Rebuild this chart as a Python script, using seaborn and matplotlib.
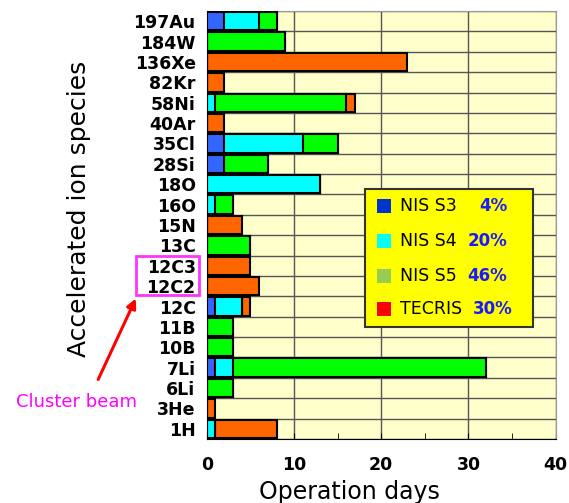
import numpy as np
import pandas as pd
import matplotlib
matplotlib.use("Agg")
import matplotlib.pyplot as plt
import seaborn as sns
from matplotlib.patches import Rectangle, FancyArrowPatch

# ion species, top to bottom
species = ["197Au", "184W", "136Xe", "82Kr", "58Ni", "40Ar", "35Cl", "28Si",
           "18O", "16O", "15N", "13C", "12C3", "12C2", "12C", "11B", "10B",
           "7Li", "6Li", "3He", "1H"]

# operation days per ion source
nis_s3 = [2, 0, 0, 0, 0, 0, 2, 2, 0, 0, 0, 0, 0, 0, 1, 0, 0, 1, 0, 0, 0]
nis_s4 = [4, 0, 0, 0, 1, 0, 9, 0, 13, 1, 0, 0, 0, 0, 3, 0, 0, 2, 0, 0, 1]
nis_s5 = [2, 9, 0, 0, 15, 0, 4, 5, 0, 2, 0, 5, 0, 0, 0, 3, 3, 29, 3, 0, 0]
tecris = [0, 0, 23, 2, 1, 2, 0, 0, 0, 0, 4, 0, 5, 6, 1, 0, 0, 0, 0, 1, 7]

sources = ["NIS S3", "NIS S4", "NIS S5", "TECRIS"]
shares = ["4%", "20%", "46%", "30%"]

bar_colors = ["#3366FF", "#00FFFF", "#00FF00", "#FF6600"]
legend_colors = ["#0033CC", "#00FFFF", "#99CC55", "#FF0000"]

W, H = 569, 503


def fx(px):
    return px / W


def fy(py):
    return 1 - py / H


df = pd.DataFrame({"species": species, "s3": nis_s3, "s4": nis_s4,
                   "s5": nis_s5, "tec": tecris})
df["c1"] = df["s3"]
df["c2"] = df["c1"] + df["s4"]
df["c3"] = df["c2"] + df["s5"]
df["c4"] = df["c3"] + df["tec"]

fig = plt.figure(figsize=(W / 100, H / 100), dpi=100)
ax = fig.add_axes([fx(206.7), fy(439), fx(349), 428 / H])
ax.set_facecolor("#FFFFCC")

# stacked bars: draw cumulative totals from the longest to the shortest
for col, color in zip(["c4", "c3", "c2", "c1"], bar_colors[::-1]):
    sns.barplot(data=df, x=col, y="species", order=species, color=color,
                saturation=1, width=0.9, edgecolor="black", linewidth=1.5,
                errorbar=None, ax=ax, zorder=3)

n = len(species)
ax.set_xlim(0, 40)
ax.set_ylim(n - 0.5, -0.5)
ax.set_xticks([0, 10, 20, 30, 40])
ax.set_xticks([5, 15, 25, 35], minor=True)
ax.set_yticks(np.arange(-0.5, n), minor=True)
ax.set_axisbelow(True)
ax.grid(False)
ax.grid(which="major", axis="x", color="#555555", linewidth=1)
ax.grid(which="minor", axis="y", color="#555555", linewidth=1)

ax.tick_params(axis="y", which="both", length=0, pad=8, labelsize=12.5)
ax.tick_params(axis="x", which="both", direction="in", length=4,
               pad=12, labelsize=12.5)
for lab in ax.get_xticklabels() + ax.get_yticklabels():
    lab.set_fontweight("bold")

for side in ["top", "right"]:
    ax.spines[side].set_color("#999999")
for side in ["left", "bottom"]:
    ax.spines[side].set_color("black")

ax.set_xlabel("Operation days", fontsize=17)
ax.xaxis.set_label_coords(0.41, -0.095)
ax.set_ylabel("Accelerated ion species", fontsize=18)
ax.yaxis.set_label_coords(-0.331, 0.537)

# legend box with shares
fig.patches.append(Rectangle((fx(364.7), fy(326.7)), fx(533.3 - 364.7),
                             (326.7 - 189.3) / H, transform=fig.transFigure,
                             facecolor="#FFFF00", edgecolor="#333333",
                             linewidth=1.5, zorder=5))
rows = [206, 241, 275.7, 309.3]
share_right = [507, 507, 507, 513]
for name, share, color, ry, sx in zip(sources, shares, legend_colors, rows,
                                      share_right):
    fig.patches.append(Rectangle((fx(377.3), fy(ry + 7)), fx(14), 14 / H,
                                 transform=fig.transFigure, facecolor=color,
                                 edgecolor="none", zorder=6))
    fig.text(fx(400), fy(ry), name, fontsize=12.5, va="center", ha="left",
             zorder=7)
    fig.text(fx(sx), fy(ry), share, fontsize=12, va="center", ha="right",
             color="#1A1AFF", fontweight="bold", zorder=7)

# cluster beam annotation
fig.patches.append(Rectangle((fx(136), fy(295)), fx(63.3), 39.3 / H,
                             transform=fig.transFigure, facecolor="none",
                             edgecolor="#FF33FF", linewidth=2, zorder=5))
fig.patches.append(FancyArrowPatch((fx(97), fy(382)), (fx(137), fy(296)),
                                   transform=fig.transFigure,
                                   arrowstyle="-|>", mutation_scale=14,
                                   color="#FF0000", linewidth=2.2, zorder=5))
fig.text(fx(77), fy(402), "Cluster beam", color="#FF00FF", fontsize=13,
         ha="center", va="center")

fig.savefig("out.png", dpi=100)
